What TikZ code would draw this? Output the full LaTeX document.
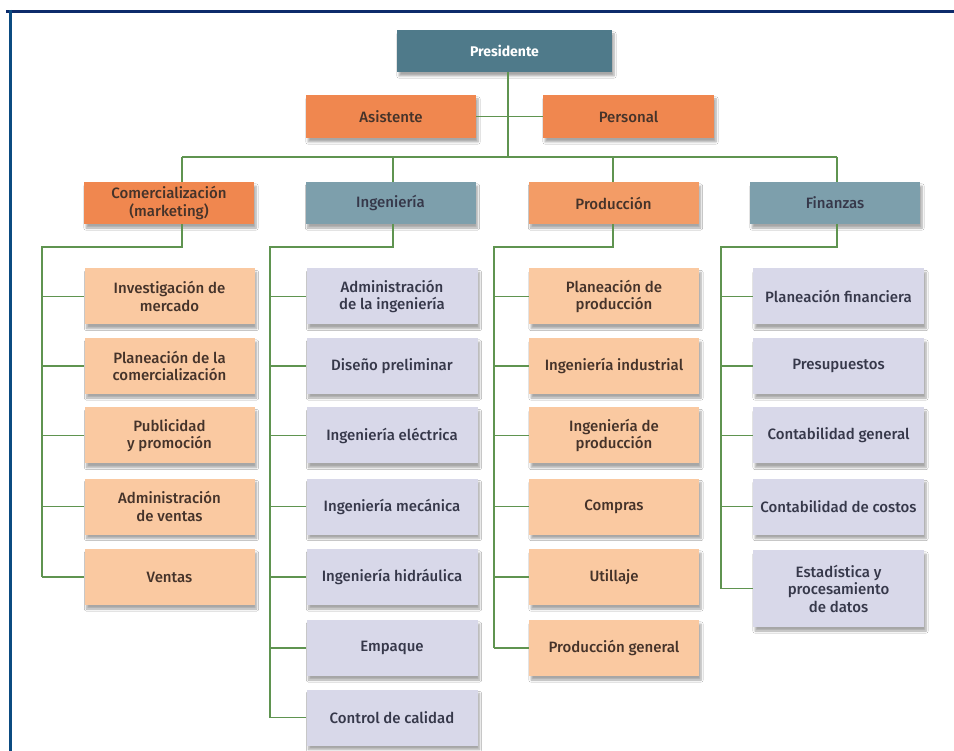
\documentclass[tikz,border=0pt]{standalone}
\usepackage{fontspec}
\setmainfont{Fira Sans}[UprightFont={* Medium},BoldFont={* Bold}]
\usetikzlibrary{shadows.blur}
\definecolor{frame}{HTML}{0D2B6B}
\definecolor{lineg}{HTML}{5F9450}
\definecolor{topblue}{HTML}{4F7A8A}
\definecolor{midblue}{HTML}{7D9FAC}
\definecolor{darkor}{HTML}{F0874F}
\definecolor{midor}{HTML}{F39C66}
\definecolor{lightor}{HTML}{FAC9A1}
\definecolor{lav}{HTML}{D8D8E9}
\definecolor{txtor}{HTML}{45332A}
\definecolor{txtlav}{HTML}{36384A}
\begin{document}
\begin{tikzpicture}[x=1pt,y=-1pt,
  box/.style={rectangle, inner sep=1pt, align=center, font=\fontsize{15}{17.5}\selectfont,
    blur shadow={shadow xshift=2pt, shadow yshift=-4pt, shadow blur steps=6, shadow opacity=35}},
  headbox/.style={box, minimum width=170pt, minimum height=42pt},
  orhead/.style={headbox, fill=darkor, text=txtor},
  mdhead/.style={headbox, fill=midor, text=txtor},
  bluehead/.style={headbox, fill=midblue, text=txtlav},
  orchild/.style={box, minimum width=170pt, minimum height=56pt, fill=lightor, text=txtor},
  lavchild/.style={box, minimum width=171pt, minimum height=56pt, fill=lav, text=txtlav},
  link/.style={draw=lineg, line width=1.6pt}]
\useasboundingbox (0,0) rectangle (954,751);
\fill[white] (0,0) rectangle (954,751);

% page frame: top rule and left rule
\draw[frame, line width=3pt] (6,11.5) -- (954,11.5);
\draw[frame!85!cyan, line width=2.5pt] (10.5,10) -- (10.5,751);

% top of the hierarchy
\node[box, minimum width=215pt, minimum height=42pt, fill=topblue, text=white,
      font=\fontsize{14}{17}\selectfont\bfseries] (pres) at (504.5,51) {Presidente};
\node[box, minimum width=170pt, minimum height=43pt, fill=darkor, text=txtor] (asis) at (391,116.5) {Asistente};
\node[box, minimum width=171pt, minimum height=43pt, fill=darkor, text=txtor] (pers) at (628.5,116.5) {Personal};

% departments
\node[orhead]   (com) at (169,203) {Comercialización\\(marketing)};
\node[bluehead] (ing) at (390.5,203) {Ingeniería};
\node[mdhead]   (pro) at (613.5,203) {Producción};
\node[bluehead] (fin) at (835,203) {Finanzas};

% marketing units
\node[orchild] (c1) at (169.5,296.5) {Investigación de\\mercado};
\node[orchild] (c2) at (169.5,366) {Planeación de la\\comercialización};
\node[orchild] (c3) at (169.5,435.5) {Publicidad\\y promoción};
\node[orchild] (c4) at (169.5,506.5) {Administración\\de ventas};
\node[orchild] (c5) at (169.5,577) {Ventas};

% engineering units
\node[lavchild] (i1) at (392,296.5) {Administración\\de la ingeniería};
\node[lavchild] (i2) at (392,366) {Diseño preliminar};
\node[lavchild] (i3) at (392,435.5) {Ingeniería eléctrica};
\node[lavchild] (i4) at (392,506.5) {Ingeniería mecánica};
\node[lavchild] (i5) at (392,577) {Ingeniería hidráulica};
\node[lavchild] (i6) at (392,648) {Empaque};
\node[lavchild] (i7) at (392,717.5) {Control de calidad};

% production units
\node[orchild] (p1) at (614,296.5) {Planeación de\\producción};
\node[orchild] (p2) at (614,366) {Ingeniería industrial};
\node[orchild] (p3) at (614,435.5) {Ingeniería de\\producción};
\node[orchild] (p4) at (614,506.5) {Compras};
\node[orchild] (p5) at (614,577) {Utillaje};
\node[orchild] (p6) at (614,648) {Producción general};

% finance units
\node[lavchild] (f1) at (838.5,296.5) {Planeación financiera};
\node[lavchild] (f2) at (838.5,366) {Presupuestos};
\node[lavchild] (f3) at (838.5,435.5) {Contabilidad general};
\node[lavchild] (f4) at (838.5,506.5) {Contabilidad de costos};
\node[lavchild, minimum height=77pt] (f5) at (838.5,588.5) {Estadística y\\procesamiento\\de datos};

% routing points
\coordinate (bus) at (508,157);
\coordinate (busL) at (182,157);
\coordinate (busR) at (837,157);
\coordinate (dI) at (393,157);
\coordinate (dP) at (613,157);
\coordinate (sC) at (42,247);
\coordinate (sI) at (270,247);
\coordinate (sP) at (494,247);
\coordinate (sF) at (721,247);

% president to departments
\draw[link] (pres.south -| bus) -- (bus);
\draw[link] (asis.east) -- (pers.west);
\draw[link] (busL) -- (busR);
\draw[link] (busL) -- (busL |- com.north);
\draw[link] (dI) -- (dI |- ing.north);
\draw[link] (dP) -- (dP |- pro.north);
\draw[link] (busR) -- (busR |- fin.north);

% department spines
\draw[link] (busL |- com.south) -- (busL |- sC) -- (sC) -- (sC |- c5.west);
\draw[link] (dI |- ing.south) -- (dI |- sI) -- (sI) -- (sI |- i7.west);
\draw[link] (dP |- pro.south) -- (dP |- sP) -- (sP) -- (sP |- p6.west);
\draw[link] (busR |- fin.south) -- (busR |- sF) -- (sF) -- (sF |- f5.west);

% branches to units
\foreach \n in {c1,c2,c3,c4,c5} \draw[link] (sC |- \n.west) -- (\n.west);
\foreach \n in {i1,i2,i3,i4,i5,i6,i7} \draw[link] (sI |- \n.west) -- (\n.west);
\foreach \n in {p1,p2,p3,p4,p5,p6} \draw[link] (sP |- \n.west) -- (\n.west);
\foreach \n in {f1,f2,f3,f4,f5} \draw[link] (sF |- \n.west) -- (\n.west);
\end{tikzpicture}
\end{document}
